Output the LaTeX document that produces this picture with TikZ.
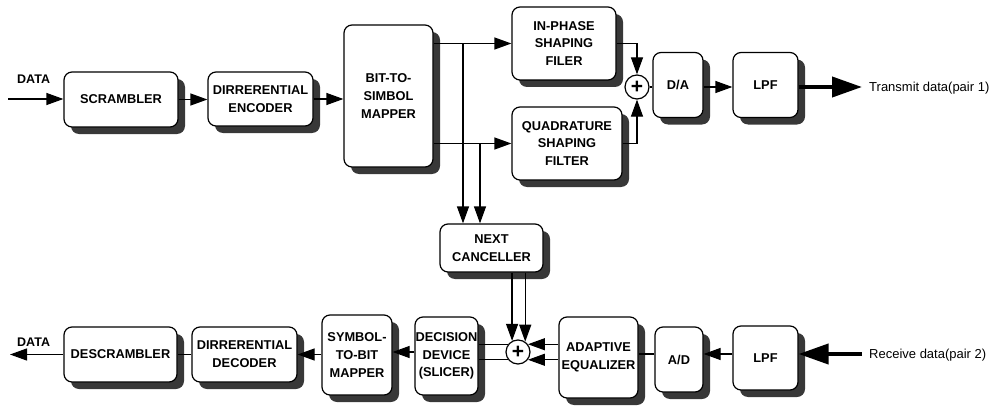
\documentclass[tikz,border=0pt]{standalone}
\usepackage{fontspec}
\setmainfont{Liberation Sans}
\usetikzlibrary{arrows.meta,shadows,calc}
\begin{document}
\begin{tikzpicture}[x=1pt,y=-1pt,
  blk/.style={draw,line width=1.2pt,rounded corners=8pt,fill=white,align=center,
    inner sep=0pt,font=\bfseries\fontsize{12.8}{17.8}\selectfont,
    drop shadow={shadow xshift=7pt,shadow yshift=-7pt,fill=black!78,opacity=1}},
  sum/.style={draw,line width=1.2pt,circle,minimum size=24pt,inner sep=0pt,fill=white,
    font=\bfseries\fontsize{21}{21}\selectfont},
  arr/.style={line width=1.2pt,-{Triangle[length=17pt,width=12pt]}},
  ln/.style={line width=1.2pt},
  big/.style={line width=4pt,-{Triangle[length=30pt,width=20pt]}},
  lbl/.style={font=\fontsize{13}{14}\selectfont,inner sep=0pt}
]
\useasboundingbox (0,0) rectangle (999,420);
% transmit chain
\node[blk,minimum width=114pt,minimum height=55pt] (scr) at (121,99.5) {SCRAMBLER};
\node[blk,minimum width=105pt,minimum height=54pt] (denc) at (260.5,99) {DIRRERENTIAL\\ENCODER};
\node[blk,minimum width=89pt,minimum height=142pt] (map) at (388.5,96) {BIT-TO-\\SIMBOL\\MAPPER};
\node[blk,minimum width=104pt,minimum height=73pt] (inph) at (564,43.5) {IN-PHASE\\SHAPING\\FILER};
\node[blk,minimum width=110pt,minimum height=73pt] (quad) at (567,143.5) {QUADRATURE\\SHAPING\\FILTER};
\node[sum] (add1) at (637,87) {+};
\node[blk,minimum width=50pt,minimum height=65pt] (da) at (678,85) {D/A};
\node[blk,minimum width=65pt,minimum height=65pt] (lpfa) at (765.5,85) {LPF};
\coordinate (in1) at (8,99);
\coordinate (out1) at (862,87);
\node[lbl,anchor=south west,font=\bfseries\fontsize{12.5}{14}\selectfont] (dtin) at (17,84) {DATA};
\node[lbl,anchor=west] (txt1) at (869,88) {Transmit data(pair 1)};
% canceller
\node[blk,minimum width=103pt,minimum height=48pt] (canc) at (491.5,248) {NEXT\\CANCELLER};
% receive chain
\node[blk,minimum width=113pt,minimum height=55pt] (desc) at (120.5,354.5) {DESCRAMBLER};
\node[blk,minimum width=105pt,minimum height=55pt] (ddec) at (244.5,354.5) {DIRRERENTIAL\\DECODER};
\node[blk,minimum width=70pt,minimum height=80pt] (sym) at (357,355) {SYMBOL-\\TO-BIT\\MAPPER};
\node[blk,minimum width=63pt,minimum height=78pt] (dec) at (446.5,356) {DECISION\\DEVICE\\(SLICER)};
\node[sum] (add2) at (518,352) {+};
\node[blk,minimum width=79pt,minimum height=81pt] (eq) at (598.5,357.5) {ADAPTIVE\\EQUALIZER};
\node[blk,minimum width=48pt,minimum height=65pt] (ad) at (679,359.5) {A/D};
\node[blk,minimum width=65pt,minimum height=64pt] (lpfb) at (765.5,358) {LPF};
\coordinate (in2) at (862,354);
\coordinate (out2) at (10,354.5);
\node[lbl,anchor=south west,font=\bfseries\fontsize{12.5}{14}\selectfont] (dtout) at (17,347) {DATA};
\node[lbl,anchor=west] (txt2) at (869,355) {Receive data(pair 2)};
% transmit connectors
\draw[arr] (in1) -- (scr.west |- in1);
\draw[arr] (scr.east) -- (scr.east -| denc.west);
\draw[arr] (denc.east) -- (denc.east -| map.west);
\draw[arr] (map.east |- inph.west) -- (inph.west);
\draw[arr] (map.east |- quad.west) -- (quad.west);
\coordinate (b1) at (463,43.5);
\coordinate (b2) at (480,143.5);
\draw[arr] (b1) -- (b1 |- canc.north);
\draw[arr] (b2) -- (b2 |- canc.north);
\draw[arr] (inph.east) -| (add1.north);
\draw[arr] (quad.east) -| (add1.south);
\draw[ln] (add1.east) -- (add1.east -| da.west);
\draw[arr] (da.east |- add1.east) -- (lpfa.west |- add1.east);
\draw[big] (lpfa.east |- out1) -- (out1);
% receive connectors
\draw[big] (in2) -- (in2 -| lpfb.east);
\draw[arr] (lpfb.west |- in2) -- (ad.east |- in2);
\draw[ln] (ad.west |- in2) -- (eq.east |- in2);
\draw[arr] (eq.west |- add2.38) -- (add2.38);
\draw[arr] (eq.west |- add2.-38) -- (add2.-38);
\draw[arr] (canc.south -| add2.118) -- (add2.118);
\draw[arr] (canc.south -| add2.55) -- (add2.55);
\draw[ln] (add2.142) -- (add2.142 -| dec.east);
\draw[ln] (add2.-142) -- (add2.-142 -| dec.east);
\draw[arr] (dec.west |- add2.west) -- (sym.east |- add2.west);
\draw[arr] (sym.west |- ddec.east) -- (ddec.east);
\draw[ln] (ddec.west) -- (ddec.west -| desc.east);
\draw[arr] (desc.west) -- (out2);
\end{tikzpicture}
\end{document}
